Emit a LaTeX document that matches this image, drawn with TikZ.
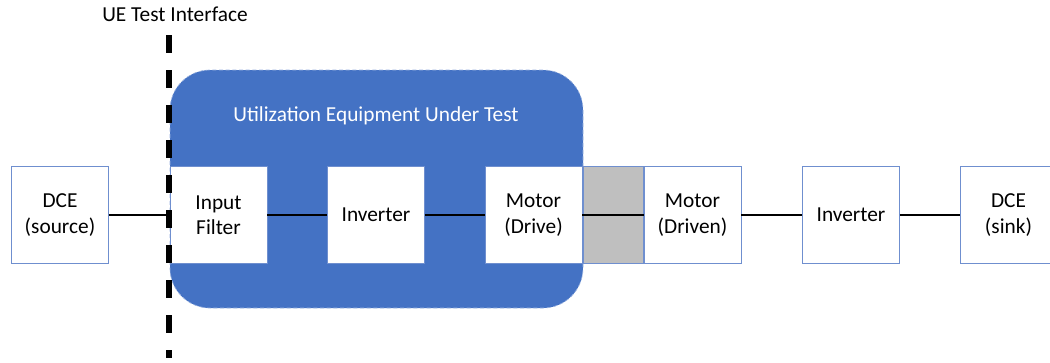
\documentclass[tikz,border=0pt]{standalone}
\usepackage{fontspec}
\setmainfont{Carlito}
\usetikzlibrary{positioning,calc}
\definecolor{uutblue}{HTML}{4472C4}
\definecolor{edgeblue}{HTML}{6F8FCF}
\definecolor{shaftgray}{HTML}{BFBFBF}
\tikzset{blockbox/.style={draw=edgeblue,fill=white,line width=.7pt,minimum width=72.75pt,minimum height=72.75pt,align=center,font=\fontsize{16}{19}\selectfont,inner sep=2pt},shaftbox/.style={blockbox,fill=shaftgray,minimum width=45pt},uutregion/.style={fill=uutblue,draw=uutblue!55!white,densely dashed,line width=.5pt,rounded corners=30pt},link/.style={draw=black,line width=2.2pt},ifaceline/.style={draw=black,line width=4.2pt,dash pattern=on 13.5pt off 12.75pt},caption/.style={font=\fontsize{16}{19}\selectfont}}

\begin{document}
\begin{tikzpicture}[x=.75pt,y=-.75pt]
\useasboundingbox (0,0) rectangle (1050,362);
% equipment under test
\node[uutregion,minimum width=309.75pt,minimum height=178.5pt] (uut) at (376.5,189) {};
\node[caption,text=white] (uuttitle) at (376,116) {Utilization Equipment Under Test};
% chain of blocks
\foreach \name/\x/\txt/\sty in {src/60/DCE\\(source)/blockbox,filt/218.5/Input\\Filter/blockbox,invA/376/Inverter/blockbox,drive/533.5/Motor\\(Drive)/blockbox,shaft/613/{}/shaftbox,driven/692.5/Motor\\(Driven)/blockbox,invB/851/Inverter/blockbox,sink/1008.5/DCE\\(sink)/blockbox}{
  \node[\sty] (\name) at (\x,215) {\txt};
}
\foreach \a/\b in {src/filt,filt/invA,invA/drive,drive/driven,driven/invB,invB/sink}{
  \draw[link] (\a.east) -- (\b.west);
}
% test interface
\node[caption] (ifacelabel) at (175,14) {UE Test Interface};
\coordinate (ifacetop) at (169,35);
\coordinate (ifacebot) at (169,358);
\draw[ifaceline] (ifacetop) -- (ifacebot);
\end{tikzpicture}
\end{document}
